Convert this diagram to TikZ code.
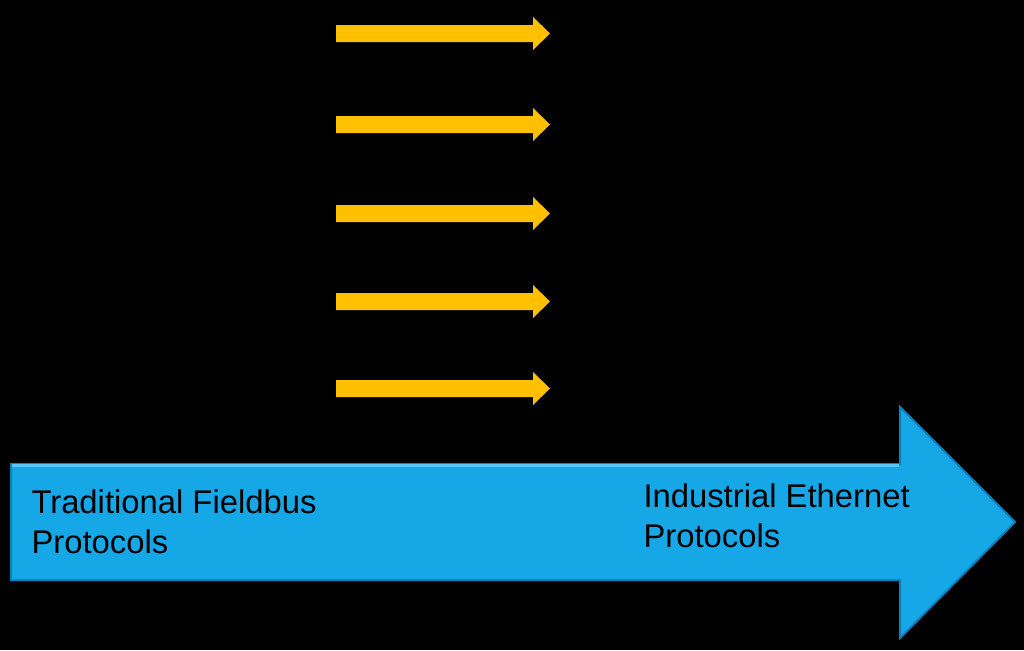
\documentclass[tikz,border=0pt]{standalone}
\usepackage{fontspec}
\setmainfont{Liberation Sans}
\definecolor{arrowgold}{RGB}{255,192,0}
\definecolor{arrowblue}{RGB}{22,168,230}
\definecolor{blueedge}{RGB}{10,130,190}
\definecolor{bluelight}{RGB}{90,200,245}
\tikzset{every picture/.style={line width=0.75pt}}
\begin{document}
\begin{tikzpicture}[x=0.75pt,y=0.75pt,yscale=-1,xscale=1]
%background, sets the size of the diagram
\fill [black] (0,0) rectangle (1024,650);

%Right Arrow [id:yellow1]
\fill [arrowgold] (336,25) -- (533,25) -- (533,17) -- (550,33.5) -- (533,50) -- (533,42) -- (336,42) -- cycle ;
%Right Arrow [id:yellow2]
\fill [arrowgold] (336,116) -- (533,116) -- (533,108) -- (550,124.5) -- (533,141) -- (533,133) -- (336,133) -- cycle ;
%Right Arrow [id:yellow3]
\fill [arrowgold] (336,205) -- (533,205) -- (533,197) -- (550,213.5) -- (533,230) -- (533,222) -- (336,222) -- cycle ;
%Right Arrow [id:yellow4]
\fill [arrowgold] (336,293) -- (533,293) -- (533,285) -- (550,301.5) -- (533,318) -- (533,310) -- (336,310) -- cycle ;
%Right Arrow [id:yellow5]
\fill [arrowgold] (336,380) -- (533,380) -- (533,372) -- (550,388.5) -- (533,405) -- (533,397) -- (336,397) -- cycle ;

%Right Arrow [id:bluearrow]
\draw [draw=blueedge, fill=arrowblue, line width=1.5] (11,464) -- (900,464) -- (900,407) -- (1015,522) -- (900,638) -- (900,580) -- (11,580) -- cycle ;
%highlight along the top edge
\draw [bluelight, line width=2] (12,465.5) -- (899,465.5) ;

% Text Node
\node (fieldbus) at (31,489) [anchor=north west, inner sep=0pt, align=left, font=\fontsize{24.6}{30}\selectfont] {Traditional Fieldbus\\Protocols};
% Text Node
\node (ethernet) at (643,483) [anchor=north west, inner sep=0pt, align=left, font=\fontsize{24.6}{30}\selectfont] {Industrial Ethernet\\Protocols};
\end{tikzpicture}
\end{document}
